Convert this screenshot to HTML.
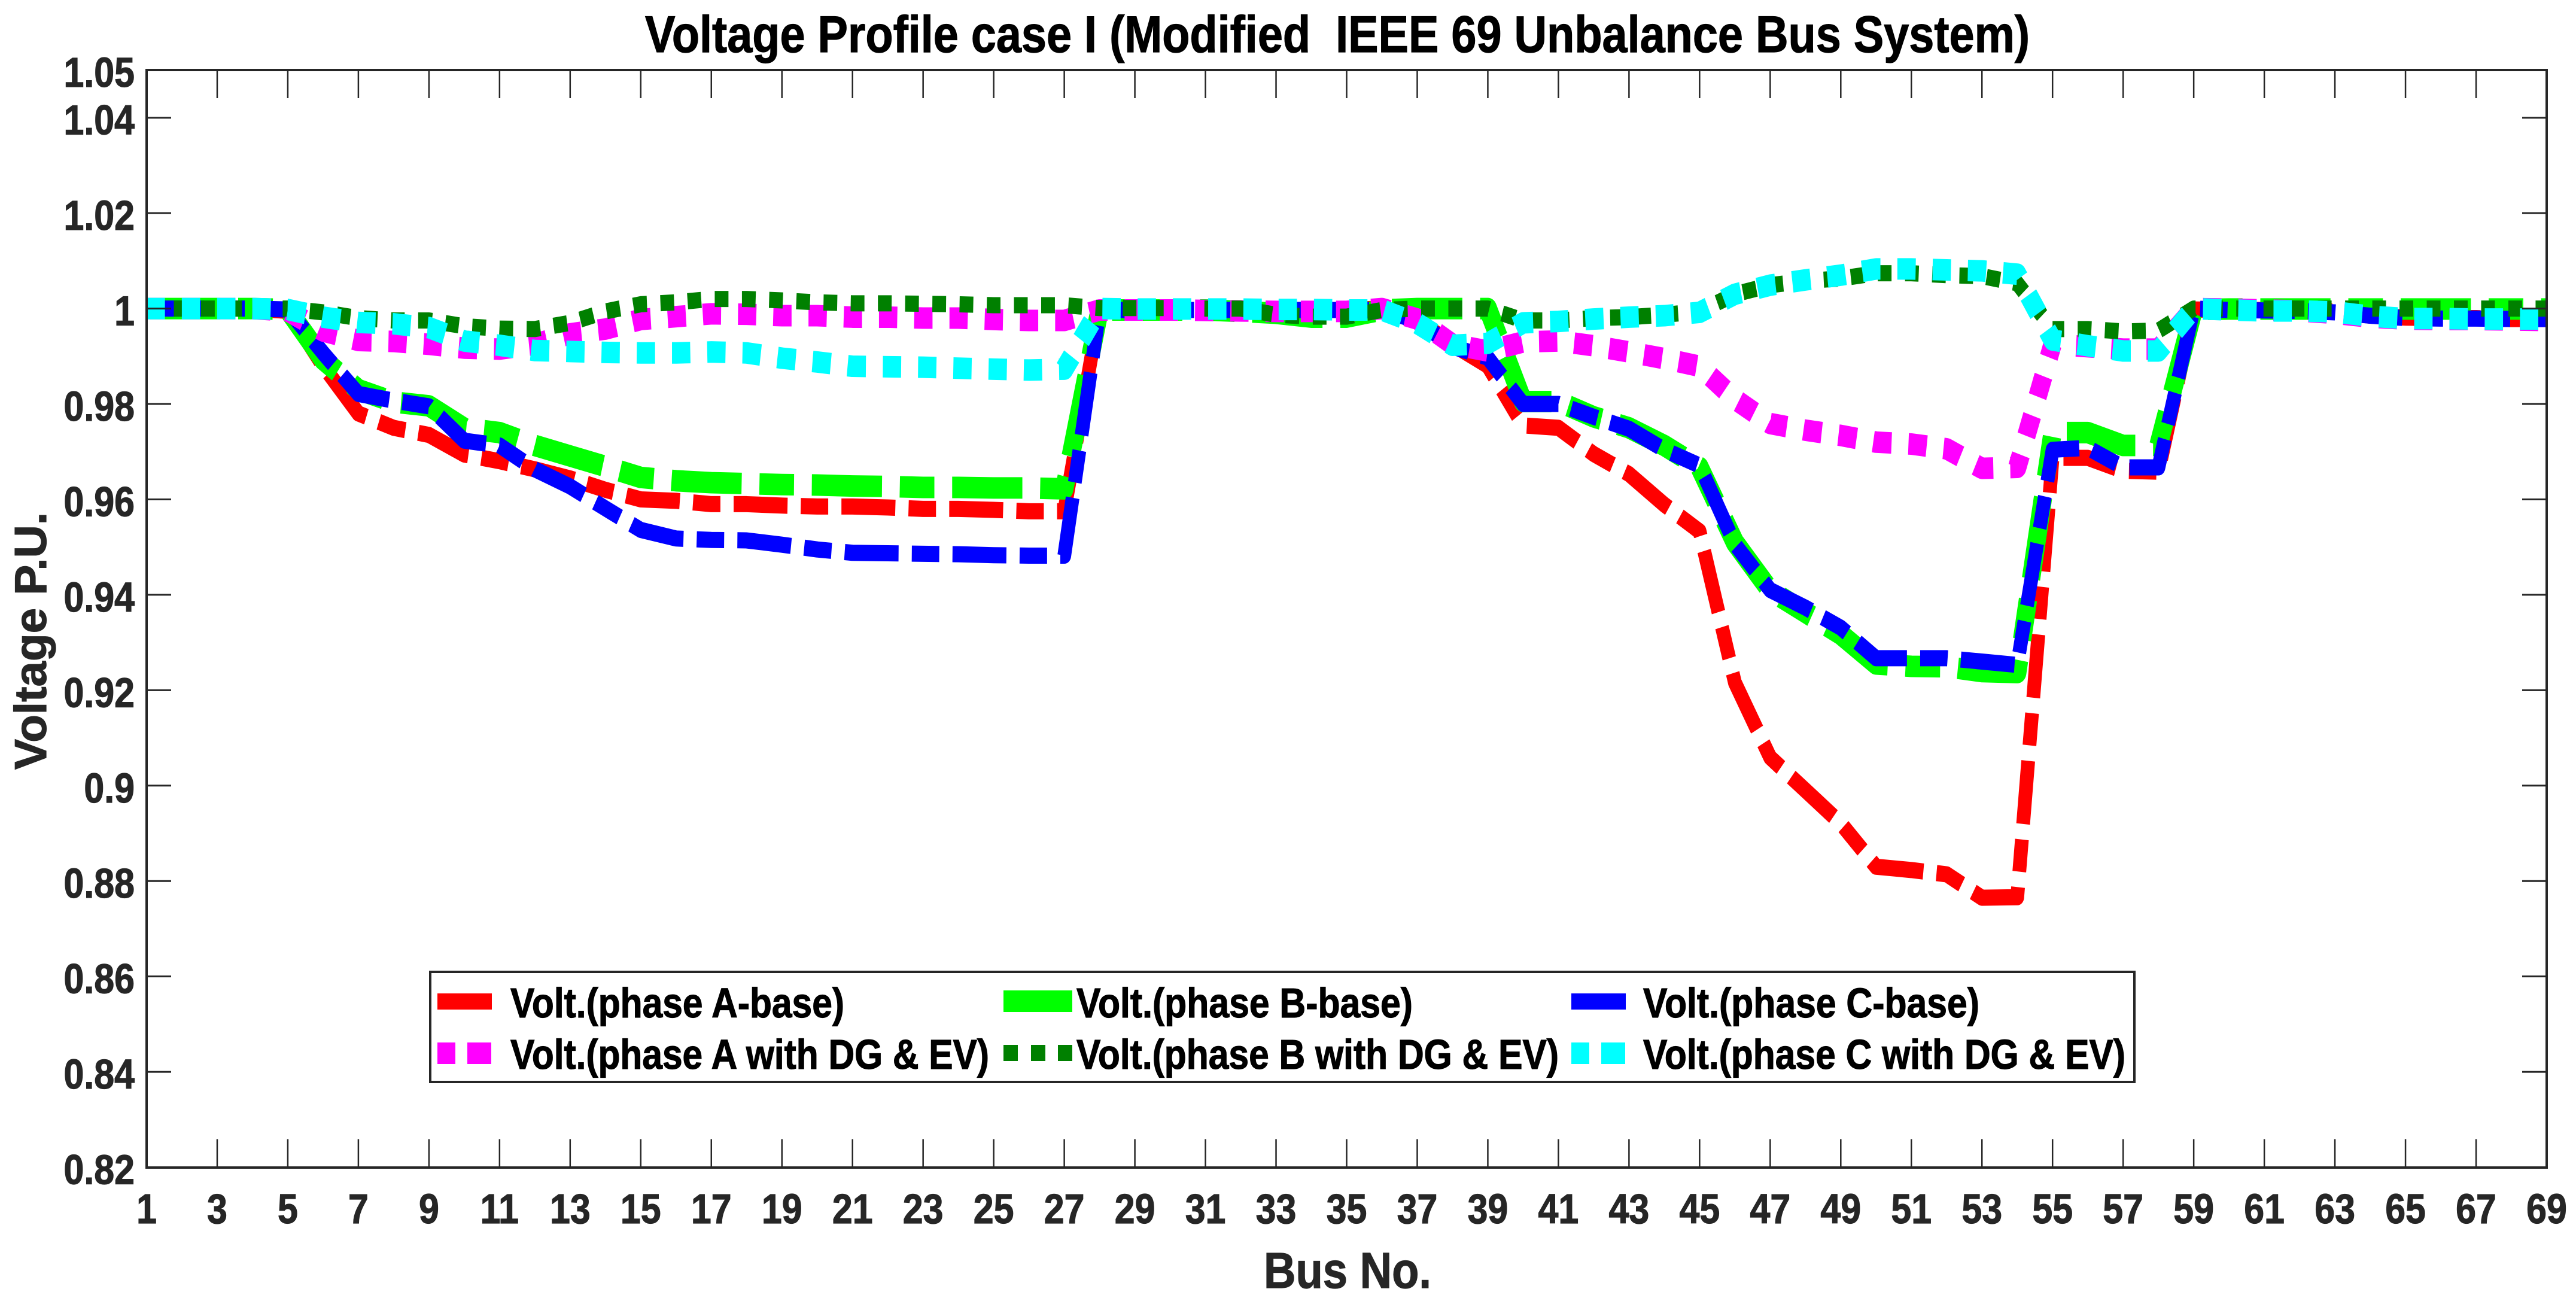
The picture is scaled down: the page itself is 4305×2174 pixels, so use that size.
<!DOCTYPE html>
<html lang="en">
<head>
<meta charset="utf-8">
<title>Voltage Profile case I</title>
<style>
html,body{margin:0;padding:0;background:#fff;}
svg{display:block;}
text{font-family:"Liberation Sans",Arial,sans-serif;font-weight:bold;white-space:pre;stroke:currentColor;stroke-width:1.2px;}
</style>
</head>
<body>
<svg id="chart" xmlns="http://www.w3.org/2000/svg" width="4305" height="2174" viewBox="0 0 4305 2174">
  <rect x="0" y="0" width="4305" height="2174" fill="#fff"/>
  <text x="1078" y="87" font-size="86" fill="#000" color="#000" textLength="2314" lengthAdjust="spacingAndGlyphs" xml:space="preserve">Voltage Profile case I (Modified  IEEE 69 Unbalance Bus System)</text>
  <g id="series-layer"></g>
  <g id="tick-layer"></g>
  <rect x="245" y="117" width="4011" height="1834" fill="none" stroke="#262626" stroke-width="4"/>
  <text x="2112" y="2152" font-size="84" fill="#262626" color="#262626" textLength="280" lengthAdjust="spacingAndGlyphs">Bus No.</text>
  <text transform="translate(77,1286) rotate(-90)" x="0" y="0" font-size="75" fill="#262626" color="#262626" textLength="430" lengthAdjust="spacingAndGlyphs">Voltage P.U.</text>
  <g color="#000">
    <rect x="719" y="1624" width="2848" height="184" fill="#fff" stroke="#262626" stroke-width="4"/>
    <g>
      <rect x="731" y="1660" width="91" height="27" fill="#ff0000"/>
      <text x="853" y="1700" font-size="70" fill="#000" textLength="558" lengthAdjust="spacingAndGlyphs">Volt.(phase A-base)</text>
    </g>
    <g>
      <rect x="1677" y="1655" width="115" height="36" fill="#00ff00"/>
      <text x="1799" y="1700" font-size="70" fill="#000" textLength="562" lengthAdjust="spacingAndGlyphs">Volt.(phase B-base)</text>
    </g>
    <g>
      <rect x="2626" y="1660" width="91" height="27" fill="#0000ff"/>
      <text x="2746" y="1700" font-size="70" fill="#000" textLength="562" lengthAdjust="spacingAndGlyphs">Volt.(phase C-base)</text>
    </g>
    <g>
      <rect x="731" y="1742" width="30" height="36" fill="#ff00ff"/>
      <rect x="781" y="1742" width="40" height="36" fill="#ff00ff"/>
      <text x="853" y="1786" font-size="70" fill="#000" textLength="800" lengthAdjust="spacingAndGlyphs">Volt.(phase A with DG &amp; EV)</text>
    </g>
    <g>
      <rect x="1677" y="1746" width="24" height="27" fill="#008000"/>
      <rect x="1723" y="1746" width="24" height="27" fill="#008000"/>
      <rect x="1768" y="1746" width="24" height="27" fill="#008000"/>
      <text x="1799" y="1786" font-size="70" fill="#000" textLength="806" lengthAdjust="spacingAndGlyphs">Volt.(phase B with DG &amp; EV)</text>
    </g>
    <g>
      <rect x="2626" y="1742" width="30" height="36" fill="#00ffff"/>
      <rect x="2676" y="1742" width="40" height="36" fill="#00ffff"/>
      <text x="2746" y="1786" font-size="70" fill="#000" textLength="806" lengthAdjust="spacingAndGlyphs">Volt.(phase C with DG &amp; EV)</text>
    </g>
  </g>
</svg>
<script>
const phaseABase = [
  1,1,1,1,.9995,.988,.978,.975,.9735,.9694,
  .968,.9663,.9644,.962,.96,.9597,.959,.959,.9587,.9585,
  .9585,.9583,.958,.958,.9578,.9575,.9575,.9997,.9997,.9997,
  .9997,.9997,.9997,.9997,.9997,1,.9975,.9925,.988,.9755,
  .975,.9695,.9653,.9589,.9533,.9216,.9059,.899,.8921,.883,
  .8823,.8814,.8765,.8766,.9687,.9687,.966,.9658,.9998,.9997,
  .9997,.9996,.9994,.9985,.9981,.998,.998,.9978,.9978
];
const phaseBBase = [
  1,1,1,1,.9998,.9893,.983,.9804,.9796,.9749,
  .974,.9713,.9691,.9669,.9646,.9639,.9635,.9633,.9631,.963,
  .9628,.9627,.9625,.9625,.9624,.9624,.9622,.9997,.9997,.9997,
  .9997,.9994,.999,.9982,.9982,.9997,1,1,1,.9805,
  .9805,.9773,.975,.9713,.9667,.951,.9409,.9363,.9317,.9255,
  .925,.9249,.9239,.9237,.974,.974,.9713,.9713,.9998,.9999,
  .9999,.9999,.9999,.9999,.9999,.9999,.9999,.9999,.9999
];
const phaseCBase = [
  1,1,1,1,.9998,.9907,.9821,.9807,.9795,.9723,
  .9713,.9663,.9627,.9581,.9536,.9518,.9515,.9514,.9505,.9495,
  .9488,.9487,.9486,.9485,.9483,.9482,.9482,.9997,.9997,.9997,
  .9997,.9997,.9997,.9997,.9997,.9996,.9975,.992,.9897,.98,
  .98,.9773,.9748,.9704,.9671,.9506,.941,.9373,.9331,.9267,
  .9267,.9267,.926,.9253,.9704,.9708,.9667,.9667,1,.9997,
  .9996,.9995,.9992,.9985,.998,.9979,.9979,.9978,.9978
];
const phaseADgEv = [
  1,1,1,1,.9995,.9953,.9933,.9931,.9925,.9917,
  .9915,.9925,.9947,.9957,.9977,.9983,.9989,.9988,.9985,.9985,
  .9982,.9982,.998,.998,.9977,.9975,.9975,.9997,.9997,.9997,
  .9996,.9995,.9994,.9994,.9994,1,.9978,.9925,.9911,.993,
  .9932,.9922,.9909,.9895,.9879,.981,.9759,.9745,.9734,.972,
  .9716,.9706,.9665,.9667,.9925,.992,.9915,.9915,1,.9999,
  .9997,.9995,.999,.9982,.9978,.9977,.9977,.9976,.9975
];
const phaseBDgEv = [
  1,1,1,1,1,.9992,.998,.9975,.9975,.9963,
  .9958,.9957,.997,.9994,1.0009,1.0013,1.002,1.002,1.0017,1.0013,
  1.0011,1.0011,1.001,1.0009,1.0007,1.0007,1.0007,1.0001,1.0001,1.0001,
  1,1,.9987,.9983,.9983,.9997,1,1,1,.9975,
  .9975,.998,.9982,.9987,.9994,1.003,1.0049,1.0058,1.0063,1.0074,
  1.0074,1.007,1.0068,1.0053,.9957,.9957,.9952,.9954,1,1,
  1,1,1,1,1,1,1,1,1
];
const phaseCDgEv = [
  1,1,1,1,.9998,.9982,.9971,.9968,.996,.9932,
  .9923,.9912,.991,.9908,.9907,.9907,.9909,.9907,.9896,.9888,
  .9879,.9878,.9877,.9875,.9873,.9871,.9873,1,.9999,.9999,
  .9999,.9999,.9998,.9998,.9997,.9997,.9969,.9923,.9927,.997,
  .9973,.9978,.9982,.9985,.9992,1.003,1.0049,1.006,1.007,1.0083,
  1.0083,1.0081,1.0079,1.0072,.9934,.9922,.9911,.9911,1,.9997,
  .9995,.9995,.9993,.9984,.9979,.9979,.9978,.9978,.9978
];
const busTicks = [1,3,5,7,9,11,13,15,17,19,21,23,25,27,29,31,33,35,37,39,41,43,45,47,49,51,53,55,57,59,61,63,65,67,69];
const voltageTicks = [0.82,0.84,0.86,0.88,0.9,0.92,0.94,0.96,0.98,1,1.02,1.04,1.05];
const voltageTickLabels = ['0.82','0.84','0.86','0.88','0.9','0.92','0.94','0.96','0.98','1','1.02','1.04','1.05'];

const SVG_NS = 'http://www.w3.org/2000/svg';
const GLYPH_SQUEEZE = 0.85;
const PLOT = {left: 245, right: 4256, top: 117, bottom: 1950.5, busMin: 1, busMax: 69, vMin: 0.82, vMax: 1.05};
function xScale(bus) {
  return PLOT.left + (bus - PLOT.busMin) / (PLOT.busMax - PLOT.busMin) * (PLOT.right - PLOT.left);
}
function yScale(v) {
  return PLOT.bottom - (v - PLOT.vMin) / (PLOT.vMax - PLOT.vMin) * (PLOT.bottom - PLOT.top);
}
const seriesLayer = document.getElementById('series-layer');
seriesLayer.setAttribute('transform', 'scale(' + GLYPH_SQUEEZE + ',1)');
const tickLayer = document.getElementById('tick-layer');

function drawSeries(values, slug, color, width, dash, offset) {
  const path = document.createElementNS(SVG_NS, 'path');
  
  
  const d = values.map(function (v, i) {
    return (i ? 'L' : 'M') + (xScale(i + 1) / GLYPH_SQUEEZE).toFixed(2) + ' ' + yScale(v).toFixed(2);
  }).join(' ');
  path.setAttribute('d', d);
  path.setAttribute('fill', 'none');
  path.setAttribute('stroke', color);
  path.setAttribute('stroke-width', width);
  path.setAttribute('stroke-dasharray', dash);
  path.setAttribute('stroke-dashoffset', offset);
  path.setAttribute('stroke-linejoin', 'round');
  path.setAttribute('stroke-linecap', 'butt');
  seriesLayer.appendChild(path);
}
drawSeries(phaseABase, 'phase-a-base', '#ff0000', 27, '106 26 54 26', 15);
drawSeries(phaseBBase, 'phase-b-base', '#00ff00', 36, '138 35 68 35', 269);
drawSeries(phaseCBase, 'phase-c-base', '#0000ff', 27, '106 26 54 26', 205);
drawSeries(phaseADgEv, 'phase-a-dg-ev', '#ff00ff', 36, '36 33.3', 0);
drawSeries(phaseBDgEv, 'phase-b-dg-ev', '#008000', 27, '27 26.5', 0);
drawSeries(phaseCDgEv, 'phase-c-dg-ev', '#00ffff', 36, '36 33.3', 0);

function addTickLine(name, x1, y1, x2, y2, w) {
  const line = document.createElementNS(SVG_NS, 'line');
  
  
  line.setAttribute('x1', x1);
  line.setAttribute('y1', y1);
  line.setAttribute('x2', x2);
  line.setAttribute('y2', y2);
  line.setAttribute('stroke', '#262626');
  line.setAttribute('stroke-width', w);
  tickLayer.appendChild(line);
}
function addTickLabel(name, str, x, y, anchor) {
  const t = document.createElementNS(SVG_NS, 'text');
  
  
  t.setAttribute('transform', 'translate(' + x + ',' + y + ') scale(0.87,1)');
  t.setAttribute('text-anchor', anchor);
  t.setAttribute('font-size', '70');
  t.setAttribute('fill', '#262626');
  t.setAttribute('color', '#262626');
  t.textContent = str;
  tickLayer.appendChild(t);
}
busTicks.forEach(function (b) {
  const x = xScale(b);
  addTickLine('x-tick-bottom-' + b, x, PLOT.bottom, x, PLOT.bottom - 47, 2.5);
  addTickLine('x-tick-top-' + b, x, PLOT.top, x, PLOT.top + 47, 2.5);
  addTickLabel('x-tick-label-' + b, String(b), x, 2044, 'middle');
});
voltageTicks.forEach(function (v, i) {
  const y = yScale(v);
  addTickLine('y-tick-left-' + voltageTickLabels[i], PLOT.left, y, PLOT.left + 41, y, 3);
  addTickLine('y-tick-right-' + voltageTickLabels[i], PLOT.right, y, PLOT.right - 41, y, 3);
  addTickLabel('y-tick-label-' + voltageTickLabels[i], voltageTickLabels[i], 225, y + 28, 'end');
});
</script>
</body>
</html>
